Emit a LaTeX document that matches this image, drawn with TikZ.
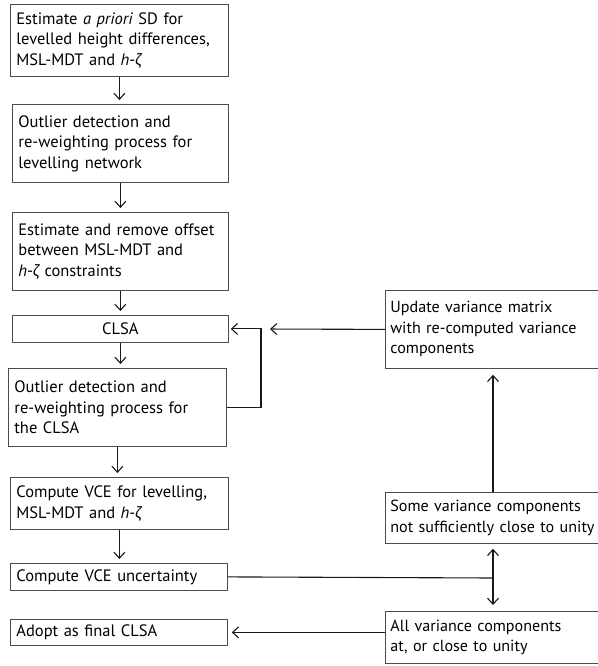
\documentclass[tikz,border=0pt]{standalone}
\usepackage{fontspec}
\setmainfont{PT Sans}
\newfontfamily\greekfont{Lato}
\usetikzlibrary{arrows.meta}
\definecolor{BoxClr}{rgb}{0.3,0.3,0.3}
\definecolor{FlowClr}{rgb}{0.1,0.1,0.1}
\newcommand{\hzeta}{\textit{h}-{\greekfont\itshape ζ}}

\begin{document}
\begin{tikzpicture}[x=1pt,y=-1pt,
  box/.style={draw=BoxClr,line width=0.8pt,rectangle,anchor=north west,
    inner xsep=6pt,inner ysep=2pt,align=left,font=\fontsize{16.5}{20.5}\selectfont},
  sidebox/.style={box,inner xsep=5pt,text width=210pt,font=\fontsize{16.1}{20.5}\selectfont},
  flow/.style={draw=FlowClr,line width=1.1pt,-{Straight Barb[length=6pt,width=11pt]},shorten >=4pt}]
\useasboundingbox (0,0) rectangle (597,666);

% left column
\node[box,text width=206pt,minimum height=72pt] (apriori) at (10,4)
  {Estimate \textit{a priori} SD for\\levelled height differences,\\MSL-MDT and \hzeta};
\node[box,text width=204pt,minimum height=78pt] (outlev) at (12,104)
  {Outlier detection and\\re-weighting process for\\levelling network};
\node[box,text width=204pt,minimum height=78pt] (offset) at (12,212)
  {Estimate and remove offset\\between MSL-MDT and\\\hzeta{} constraints};
\node[box,text width=204pt,minimum height=27pt,align=center] (clsa) at (12,315) {CLSA};
\node[box,text width=206pt,minimum height=78pt] (outcl) at (8,368)
  {Outlier detection and\\re-weighting process  for\\the CLSA};
\node[box,text width=206pt,minimum height=52pt] (vce) at (10,477)
  {Compute VCE for levelling,\\MSL-MDT and \hzeta};
\node[box,text width=205pt,minimum height=27pt] (vceunc) at (10,563) {Compute VCE uncertainty};
\node[box,text width=205pt,minimum height=26pt] (adopt) at (10,619) {Adopt as final CLSA};

% right column
\node[sidebox,minimum height=78pt] (update) at (385,290)
  {Update variance matrix\\with re-computed variance\\components};
\node[sidebox,minimum height=51pt] (some) at (385,492)
  {Some variance components\\not sufficiently close to unity};
\node[sidebox,minimum height=52pt] (all) at (385,611)
  {All variance components\\at, or close to unity};

\coordinate (loop) at (261,329);
\coordinate (fork) at (493,578);

% connectors
\draw[flow] (apriori.south) -- (apriori.south |- outlev.north);
\draw[flow] (outlev.south) -- (outlev.south |- offset.north);
\draw[flow] (offset.south) -- (offset.south |- clsa.north);
\draw[flow] (clsa.south) -- (clsa.south |- outcl.north);
\draw[flow] (outcl.south) -- (outcl.south |- vce.north);
\draw[flow] (vce.south) -- (vce.south |- vceunc.north);
\draw[flow,shorten >=2pt] (outcl.east) -| (loop) |- (clsa.east);
\draw[flow,shorten >=9pt] (update.west) -- (loop);
\draw[flow,shorten >=6pt] (fork |- some.north) -- (fork |- update.south);
\draw[draw=FlowClr,line width=1.1pt] (vceunc.east) -- (fork);
\draw[flow,shorten >=5pt] (fork) -- (fork |- some.south);
\draw[flow,shorten >=6pt] (fork) -- (fork |- all.north);
\draw[flow] (all.west |- adopt.east) -- (adopt.east);

\end{tikzpicture}
\end{document}
